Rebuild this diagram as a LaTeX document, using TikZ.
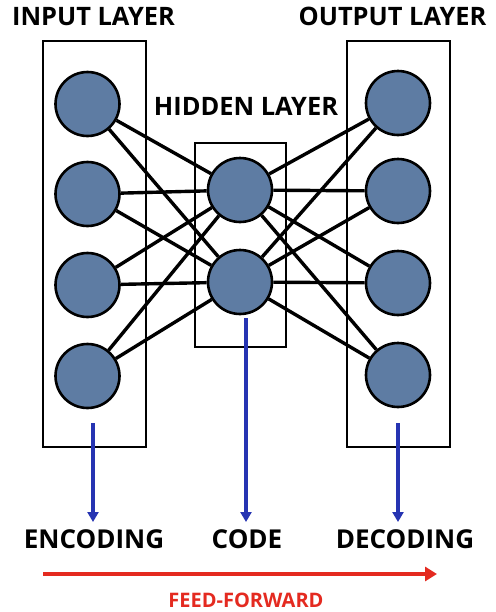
\documentclass[tikz,border=0pt]{standalone}
\usepackage{fontspec}
\setsansfont{Open Sans}
\usetikzlibrary{arrows.meta,backgrounds}
\definecolor{neuronblue}{RGB}{94,124,163}
\definecolor{flowblue}{RGB}{38,52,178}
\definecolor{feedred}{RGB}{228,42,32}
\tikzset{
  neuron/.style = {circle, draw=black, line width=1.3pt, fill=neuronblue, minimum size=32pt, inner sep=0pt},
  link/.style = {draw=black, line width=1.7pt},
  layerbox/.style = {draw=black, line width=0.7pt},
  title/.style = {font=\sffamily\bfseries\fontsize{12.7}{13}\selectfont, anchor=base, inner sep=0pt},
  stage/.style = {title, font=\sffamily\bfseries\fontsize{13}{14}\selectfont},
  flow/.style = {draw=flowblue, line width=1.7pt, -{Triangle[width=5.5pt,length=5pt]}},
  feed/.style = {draw=feedred, line width=2pt, -{Triangle[width=7pt,length=6pt]}},
}

\begin{document}
\begin{tikzpicture}[x=0.5pt,y=-0.5pt]
  \useasboundingbox (0,0) rectangle (496,612);
% neurons
  \foreach \yi [count=\i] in {104,194,285,376}{
    \node[neuron] (in\i) at (87.5,\yi) {};
  }
  \foreach \yi [count=\i] in {190,282}{
    \node[neuron] (hid\i) at (240,\yi) {};
  }
  \foreach \yi [count=\i] in {103,191,283,375}{
    \node[neuron] (out\i) at (398,\yi) {};
  }
% layer frames and all the links behind the neurons
  \begin{scope}[on background layer]
    \draw[layerbox] (43,41) rectangle (146,447);
    \draw[layerbox] (195,143) rectangle (286,347);
    \draw[layerbox] (347,41) rectangle (450,447);
    \foreach \i in {1,...,4}{
      \foreach \h in {1,2}{
        \draw[link] (in\i) -- (hid\h);
        \draw[link] (hid\h) -- (out\i);
      }
    }
  \end{scope}
% titles
  \node[title] (inlbl)  at (93.5,25)  {INPUT LAYER};
  \node[title] (hidlbl) at (246,115)  {HIDDEN LAYER};
  \node[title] (outlbl) at (392.5,25) {OUTPUT LAYER};
  \node[stage] (enc)  at (94,548)  {ENCODING};
  \node[stage] (code) at (247,548) {CODE};
  \node[stage] (dec)  at (405,548) {DECODING};
  \node[title, text=feedred, font=\sffamily\bfseries\fontsize{10}{11}\selectfont] (ff) at (246,607) {FEED-FORWARD};
% outputs of each stage
  \coordinate (encstart)  at (93,423);
  \coordinate (codestart) at (246,318);
  \coordinate (decstart)  at (398,423);
  \draw[flow] (encstart)  -- (93,522);
  \draw[flow] (codestart) -- (246,522);
  \draw[flow] (decstart)  -- (398,522);
% direction of the pass
  \coordinate (ffleft)  at (43,574);
  \coordinate (ffright) at (437,574);
  \draw[feed] (ffleft) -- (ffright);
\end{tikzpicture}
\end{document}
